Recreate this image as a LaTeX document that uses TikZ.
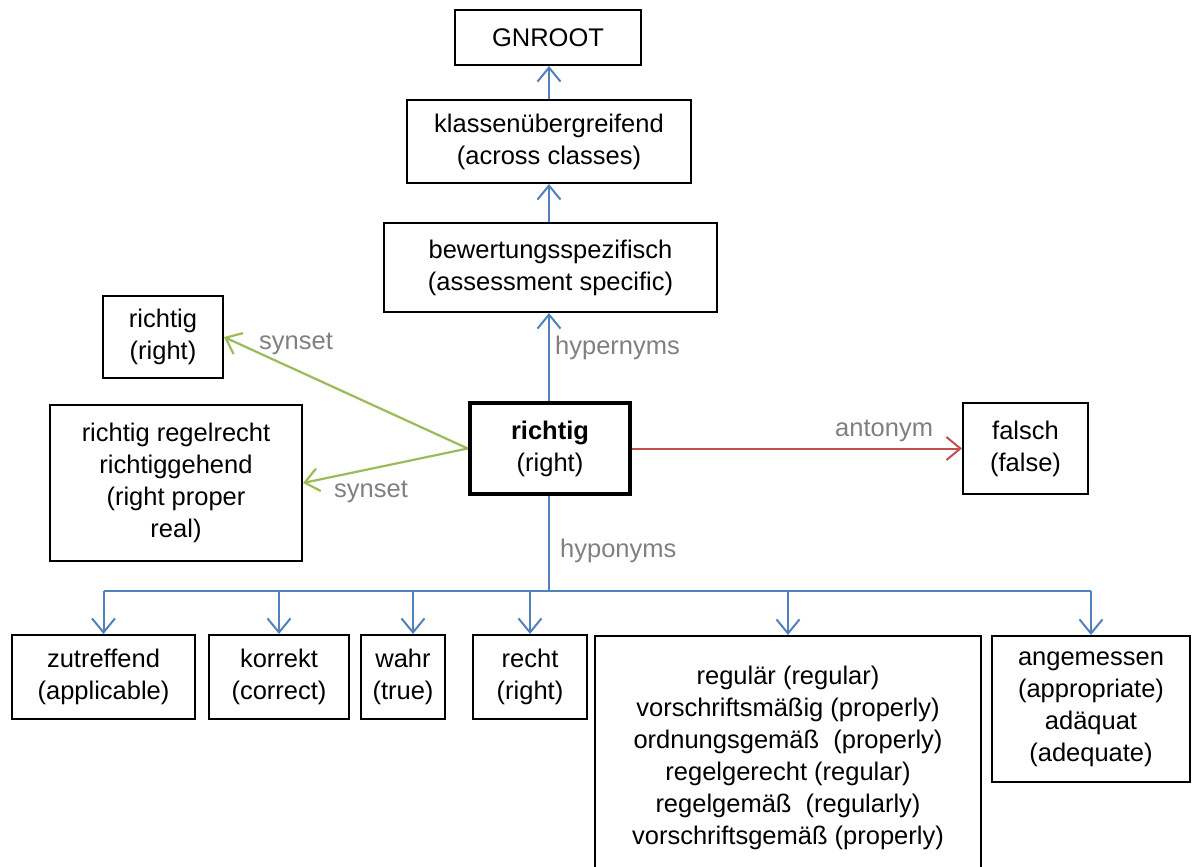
\documentclass[tikz,border=0pt]{standalone}
\usepackage{fontspec}
\setmainfont{Liberation Sans}
\usetikzlibrary{arrows.meta}
\definecolor{hypblue}{RGB}{79,129,189}
\definecolor{syngreen}{RGB}{155,187,89}
\definecolor{antred}{RGB}{192,80,77}
\definecolor{lblgray}{RGB}{128,128,128}
\begin{document}
\begin{tikzpicture}[x=1pt,y=-1pt,
  box/.style={draw=black, line width=2pt, fill=white, align=center, inner sep=0pt,
    font=\fontsize{25.5}{32}\selectfont},
  mainbox/.style={box, line width=4.5pt},
  lbl/.style={text=lblgray, inner sep=0pt, font=\fontsize{25.5}{32}\selectfont},
  tip/.style={-{Straight Barb[length=14pt,width=23pt]}},
  hyp/.style={draw=hypblue, line width=2pt},
  syn/.style={draw=syngreen, line width=2.2pt, tip},
  ant/.style={draw=antred, line width=2pt, tip}]
\clip (0,0) rectangle (1192,867);
\fill[white] (0,0) rectangle (1192,867);

% hierarchy above
\node[box, minimum width=186pt, minimum height=55pt] (gn) at (548,37.5) {GNROOT};
\node[box, minimum width=284pt, minimum height=83pt] (kl) at (549,141.5) {klassenübergreifend\\(across classes)};
\node[box, minimum width=333pt, minimum height=89pt] (bew) at (550.5,267.5) {bewertungsspezifisch\\(assessment specific)};

% central word and its relations
\node[mainbox, minimum width=160pt, minimum height=91pt] (rt) at (550,448.5) {\textbf{richtig}\\(right)};
\node[box, minimum width=120pt, minimum height=82pt] (syna) at (163,337) {richtig\\(right)};
\node[box, minimum width=252pt, minimum height=156pt] (synb) at (176,483) {richtig regelrecht\\richtiggehend\\(right proper\\real)};
\node[box, minimum width=125pt, minimum height=91pt] (fal) at (1025.5,448.5) {falsch\\(false)};

% hyponyms
\node[box, minimum width=183pt, minimum height=84pt] (zut) at (103.5,677) {zutreffend\\(applicable)};
\node[box, minimum width=140pt, minimum height=84pt] (kor) at (279,677) {korrekt\\(correct)};
\node[box, minimum width=84pt, minimum height=84pt] (wah) at (403,677) {wahr\\(true)};
\node[box, minimum width=114pt, minimum height=84pt] (rec) at (530,677) {recht\\(right)};
\node[box, minimum width=386pt, minimum height=244pt] (reg) at (788,758) {regulär (regular)\\vorschriftsmäßig (properly)\\ordnungsgemäß\ \ (properly)\\regelgerecht (regular)\\regelgemäß\ \ (regularly)\\vorschriftsgemäß (properly)};
\node[box, minimum width=198pt, minimum height=146pt] (ang) at (1091,709) {angemessen\\(appropriate)\\adäquat\\(adequate)};

% hypernym chain
\draw[hyp, tip] (kl.north) -- (kl.north |- gn.south);
\draw[hyp, tip] (bew.north -| kl.north) -- (kl.north |- kl.south);
\draw[hyp, tip] (rt.north -| kl.north) -- (kl.north |- bew.south);
\node[lbl, anchor=west] (lhyper) at (555,348) {hypernyms};

% synsets and antonym
\draw[syn] (rt.west) -- (syna.east);
\draw[syn] (rt.west) -- (synb.east);
\node[lbl, anchor=west] (lsyna) at (259,344) {synset};
\node[lbl, anchor=west] (lsynb) at (334,492) {synset};
\draw[ant] (rt.east) -- (fal.west);
\node[lbl, anchor=west] (lant) at (835,431) {antonym};

% hyponym tree
\coordinate (hub) at (549,591);
\coordinate (wahtop) at ([xshift=10pt]wah.north);
\draw[hyp] (kl.north |- rt.south) -- (hub);
\draw[hyp] (zut.north |- hub) -- (ang.north |- hub);
\foreach \n in {zut,kor,rec,reg,ang}
  \draw[hyp, tip] (\n.north |- hub) -- (\n.north);
\draw[hyp, tip] (wahtop |- hub) -- (wahtop);
\node[lbl, anchor=west] (lhypo) at (560,551) {hyponyms};
\end{tikzpicture}
\end{document}
